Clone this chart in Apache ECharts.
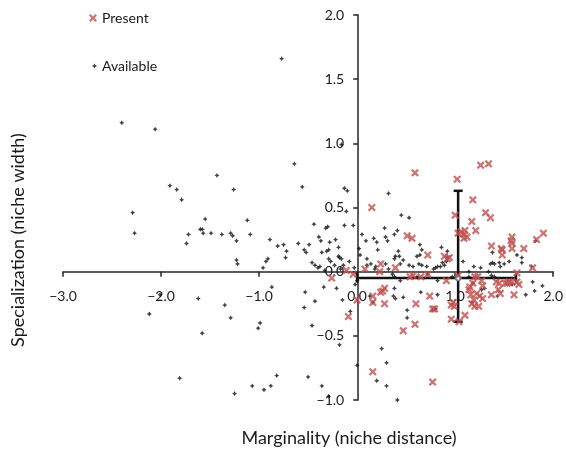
<!DOCTYPE html>
<html><head><meta charset="utf-8">
<script src="https://cdn.jsdelivr.net/npm/echarts@6/dist/echarts.min.js"></script>
<style>html,body{margin:0;padding:0;background:#fff}#c{width:566px;height:450px}</style>
</head><body><div id="c"></div>
<script>
const seriesNames = ['Present', 'Available'];
const xTicks = [-3, -2, -1, 0, 1, 2];
const yTicks = [-1, -0.5, 0, 0.5, 1, 1.5, 2];
const xAxisTitle = 'Marginality (niche distance)';
const yAxisTitle = 'Specialization (niche width)';

const availablePoints = [
[-2.40,1.16],[-2.06,1.11],[-0.64,0.84],[-1.91,0.67],[-1.84,0.64],[-1.79,0.56],[-1.43,0.75],[-1.26,0.64],[-2.29,0.46],[-2.27,0.30],
[-1.55,0.41],[-1.60,0.33],[-1.58,0.33],[-1.57,0.30],[-1.49,0.30],[-1.72,0.29],[-1.74,0.22],[-1.38,0.29],[-1.29,0.30],[-1.27,0.28],
[-1.23,0.24],[-1.23,0.09],[-1.22,0.06],[-1.12,0.40],[-1.09,0.29],[-0.89,0.25],[-0.81,0.20],[-0.75,0.21],[-0.72,0.16],[-0.73,0.11],
[-0.91,0.10],[-0.93,0.08],[-0.96,0.03],[-0.60,0.22],[-0.87,-0.12],[-1.62,-0.21],[-1.35,-0.26],[-2.12,-0.33],[-1.29,-0.36],[-0.99,-0.40],
[-1.01,-0.44],[-1.58,-0.48],[-1.81,-0.83],[-1.25,-0.95],[-1.07,-0.89],[-0.95,-0.92],[-0.88,-0.89],[-0.82,-0.81],[-0.50,-0.82],[-0.36,-0.89],
[-0.53,-0.16],[-0.54,-0.28],[-0.43,-0.23],[-0.34,-0.12],[-0.21,-0.13],[-0.15,-0.22],[-0.46,-0.42],[-0.18,-0.57],[-2.01,-0.18],[-0.29,-0.97],
[0.00,-0.73],[0.25,-0.60],[0.30,-0.71],[0.20,-0.85],[0.30,-0.89],[0.41,-1.00],[0.16,-0.24],[0.13,-0.19],[0.37,-0.19],[0.39,-0.21],
[0.51,-0.30],[0.51,-0.36],[0.65,-0.16],[0.80,-0.29],[0.77,-0.30],[-0.07,-0.31],[-0.16,0.99],[-0.77,1.66],[-0.56,0.66],[-0.13,0.65],
[-0.10,0.63],[-0.11,0.47],[0.32,0.61],[-0.44,0.37],[-0.32,0.34],[-0.30,0.35],[-0.13,0.36],[-0.04,0.36],[0.05,0.29],[-0.39,0.27],
[-0.37,0.24],[-0.49,0.21],[-0.54,0.17],[-0.52,0.15],[-0.28,0.23],[-0.22,0.25],[-0.29,0.17],[-0.31,0.16],[-0.19,0.19],[-0.36,0.15],
[-0.19,0.12],[-0.18,0.11],[-0.16,0.10],[-0.29,0.10],[-0.27,0.08],[-0.46,0.07],[-0.43,0.05],[-0.40,0.03],[-0.38,0.04],[-0.23,0.05],
[-0.14,0.05],[-0.33,0.01],[-0.17,0.02],[-0.08,0.08],[-0.03,0.03],[0.09,0.24],[0.02,0.18],[0.03,0.13],[0.10,0.10],[0.17,0.26],
[0.20,0.23],[0.21,0.17],[0.28,0.34],[0.29,0.27],[0.31,0.24],[0.41,0.32],[0.42,0.16],[0.39,0.12],[0.10,0.05],[0.14,0.06],
[0.18,0.02],[0.19,0.04],[0.29,0.06],[0.32,0.02],[0.38,0.10],[-0.01,-0.01],[0.00,-0.07],[-0.02,-0.10],[0.38,-0.13],[0.45,0.44],
[0.53,0.42],[0.38,0.29],[0.64,0.21],[0.66,0.17],[0.86,0.19],[0.92,0.16],[0.43,0.12],[0.47,0.09],[0.61,0.12],[0.64,0.13],
[0.44,0.06],[0.53,0.05],[0.57,0.04],[0.63,0.06],[0.66,0.05],[0.71,0.04],[0.78,0.02],[0.80,0.03],[0.82,0.04],[0.85,0.04],
[0.87,0.07],[0.89,0.05],[0.91,0.08],[0.92,0.11],[1.08,0.08],[1.14,0.00],[0.36,-0.02],[0.38,-0.04],[0.44,-0.07],[0.61,-0.04],
[0.72,-0.02],[0.82,-0.07],[0.97,-0.04],[0.47,-0.20],[0.82,-0.18],[1.19,0.04],[1.26,0.03],[1.38,0.15],[1.36,0.06],[1.38,0.07],
[1.40,0.06],[1.45,0.07],[1.46,0.04],[1.50,0.06],[1.55,0.08],[1.63,0.13],[1.68,0.11],[1.68,0.07],[1.82,0.24],[1.78,0.04],
[1.37,-0.03],[1.40,-0.04],[1.34,0.00],[1.79,-0.08],[1.89,-0.11],[1.81,-0.15],[1.72,-0.18],[1.27,-0.14],[1.30,-0.13],[1.43,-0.19],
[1.58,-0.10],[1.18,-0.09],[1.17,-0.24],[1.14,-0.04]
];

const presentPoints = [
[0.15,0.50],[-0.26,-0.05],[-0.09,-0.35],[-0.11,0.01],[-0.04,-0.02],[0.08,0.02],[0.24,0.06],[0.23,0.00],[0.39,0.03],[0.00,-0.22],
[0.16,-0.19],[0.16,-0.24],[0.24,-0.16],[0.26,-0.15],[0.28,-0.13],[0.28,-0.25],[0.47,-0.46],[0.59,-0.41],[0.16,-0.78],[0.77,-0.86],
[0.60,-0.25],[0.59,0.77],[1.02,0.72],[1.18,0.56],[1.00,0.44],[1.17,0.39],[1.21,0.32],[1.03,0.30],[1.06,0.31],[1.10,0.32],
[1.09,0.29],[1.12,0.27],[1.09,0.26],[0.51,0.28],[0.56,0.26],[0.72,0.13],[0.89,0.12],[0.92,0.10],[0.94,0.11],[0.54,-0.04],
[0.57,-0.03],[0.65,-0.04],[0.72,-0.02],[0.91,-0.07],[1.03,-0.03],[1.20,-0.04],[1.15,-0.12],[1.14,-0.14],[1.18,-0.09],[0.74,-0.19],
[0.77,-0.29],[0.79,-0.29],[0.96,-0.26],[0.99,-0.27],[0.98,-0.24],[0.96,-0.37],[1.04,-0.39],[1.10,-0.34],[1.16,-0.18],[1.20,-0.27],
[1.26,0.83],[1.34,0.84],[1.31,0.46],[1.36,0.42],[1.90,0.30],[1.83,0.25],[1.58,0.27],[1.57,0.24],[1.58,0.22],[1.58,0.18],
[1.70,0.18],[1.37,0.20],[1.47,0.18],[1.48,0.17],[1.48,0.13],[1.79,0.03],[1.63,-0.01],[1.23,-0.04],[1.27,-0.07],[1.28,-0.11],
[1.45,-0.09],[1.42,-0.08],[1.51,-0.09],[1.53,-0.09],[1.55,-0.08],[1.58,-0.08],[1.63,-0.08],[1.65,-0.10],[1.22,-0.17],[1.25,-0.19],
[1.28,-0.21],[1.19,-0.22],[1.37,-0.18],[1.44,-0.14],[1.46,-0.17],[1.60,-0.18],[1.24,-0.27],[1.17,-0.25]
];

// centroid of present locations with its spread
const centroid = [1.03, -0.05];
const centroidSpreadX = [0.00, 1.62];
const centroidSpreadY = [-0.39, 0.63];

const fmt = v => (v < 0 ? '\u2212' : '') + Math.abs(v).toFixed(1);
const FONT = 'Lato';
const xMarker = 'path://M0,2 L2,0 L5,3 L8,0 L10,2 L7,5 L10,8 L8,10 L5,7 L2,10 L0,8 L3,5 Z';
const starMarker = 'path://M2.5,0 L3.4,1.6 L5,2.5 L3.4,3.4 L2.5,5 L1.6,3.4 L0,2.5 L1.6,1.6 Z';

// grid layout
const G = {left: 63, right: 11, top: 15, bottom: 50};
const W = 566, H = 450;
const gw = W - G.left - G.right, gh = H - G.top - G.bottom;
const xMin = xTicks[0], xMax = xTicks[xTicks.length - 1];
const yMin = yTicks[0], yMax = yTicks[yTicks.length - 1];
// axes cross at the origin
const yAxisOffset = -gw * (0 - xMin) / (xMax - xMin);
const xAxisOffset = -gh * (0 - yMin) / (yMax - yMin);

const chart = echarts.init(document.getElementById('c'), null, {renderer: 'canvas'});
chart.setOption({
  animation: false,
  backgroundColor: '#fff',
  textStyle: {fontFamily: FONT},
  grid: {left: G.left, right: G.right, top: G.top, bottom: G.bottom, containLabel: false},
  legend: [
    {data: [seriesNames[0]], left: 84, top: 6, itemWidth: 8, itemHeight: 8, itemGap: 5,
     textStyle: {fontFamily: FONT, fontSize: 14, color: '#1a1a1a'}},
    {data: [seriesNames[1]], left: 87, top: 54, itemWidth: 5, itemHeight: 5, itemGap: 5,
     textStyle: {fontFamily: FONT, fontSize: 14, color: '#1a1a1a'}}
  ],
  xAxis: {
    type: 'value', min: xMin, max: xMax, interval: 1, position: 'bottom', offset: xAxisOffset,
    splitLine: {show: false},
    axisLine: {onZero: false, lineStyle: {color: '#262626', width: 1.5}},
    axisTick: {show: true, length: 5, lineStyle: {color: '#262626', width: 1.5}},
    axisLabel: {formatter: fmt, fontFamily: FONT, fontSize: 14, color: '#1a1a1a', margin: 18}
  },
  yAxis: {
    type: 'value', min: yMin, max: yMax, interval: 0.5, position: 'left', offset: yAxisOffset,
    splitLine: {show: false},
    axisLine: {show: true, onZero: false, lineStyle: {color: '#262626', width: 1.5}},
    axisTick: {show: true, length: 5, lineStyle: {color: '#262626', width: 1.5}},
    axisLabel: {formatter: fmt, fontFamily: FONT, fontSize: 14, color: '#1a1a1a', margin: 14}
  },
  graphic: [
    {type: 'text', x: 349, y: 438, style: {text: xAxisTitle, font: '18px Lato', fill: '#1a1a1a', textAlign: 'center', textVerticalAlign: 'middle'}},
    {type: 'text', rotation: Math.PI / 2, x: 18, y: 240, style: {text: yAxisTitle, font: '18px Lato', fill: '#1a1a1a', textAlign: 'center', textVerticalAlign: 'middle'}}
  ],
  series: [
    {
      type: 'custom', name: 'centroid', silent: true, z: 2,
      data: [[centroid[0], centroid[1], centroidSpreadX[0], centroidSpreadX[1], centroidSpreadY[0], centroidSpreadY[1]]],
      renderItem: function (params, api) {
        const c = api.coord([api.value(0), api.value(1)]);
        const xl = api.coord([api.value(2), api.value(1)]);
        const xh = api.coord([api.value(3), api.value(1)]);
        const yl = api.coord([api.value(0), api.value(4)]);
        const yh = api.coord([api.value(0), api.value(5)]);
        const st = {stroke: '#111', lineWidth: 2.5};
        const cap = 4.5;
        return {type: 'group', children: [
          {type: 'line', shape: {x1: xl[0], y1: xl[1], x2: xh[0], y2: xh[1]}, style: st},
          {type: 'line', shape: {x1: xl[0], y1: xl[1] - cap, x2: xl[0], y2: xl[1] + cap}, style: st},
          {type: 'line', shape: {x1: xh[0], y1: xh[1] - cap, x2: xh[0], y2: xh[1] + cap}, style: st},
          {type: 'line', shape: {x1: yl[0], y1: yl[1], x2: yh[0], y2: yh[1]}, style: st},
          {type: 'line', shape: {x1: yl[0] - cap, y1: yl[1], x2: yl[0] + cap, y2: yl[1]}, style: st},
          {type: 'line', shape: {x1: yh[0] - cap, y1: yh[1], x2: yh[0] + cap, y2: yh[1]}, style: st},
          {type: 'circle', shape: {cx: c[0], cy: c[1], r: 2.5}, style: {fill: '#fff', stroke: '#4F81BD', lineWidth: 1.5}, z2: 10}
        ]};
      }
    },
    {
      name: seriesNames[1], type: 'scatter', z: 3, symbol: starMarker, symbolSize: 5,
      itemStyle: {color: '#111'}, data: availablePoints
    },
    {
      name: seriesNames[0], type: 'scatter', z: 4, symbol: xMarker, symbolSize: 8,
      itemStyle: {color: '#C0504D'}, data: presentPoints
    }
  ]
});
</script></body></html>
